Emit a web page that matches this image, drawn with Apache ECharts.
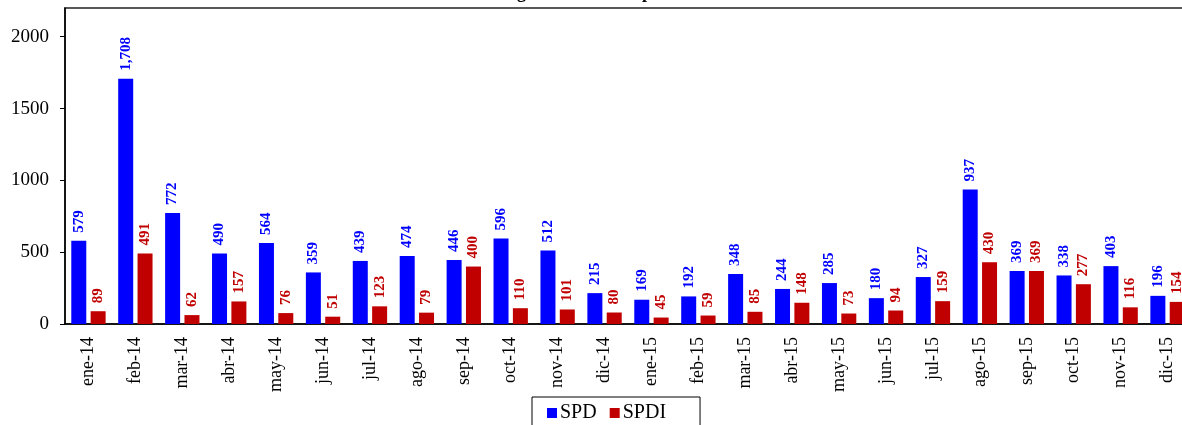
<!DOCTYPE html>
<html>
<head>
<meta charset="utf-8">
<script src="https://cdn.jsdelivr.net/npm/echarts@6/dist/echarts.min.js"></script>
<style>html,body{margin:0;padding:0;background:#fff;overflow:hidden;}#c{width:1200px;height:425px;}</style>
</head>
<body>
<div id="c"></div>
<script>
var categories = ['ene-14','feb-14','mar-14','abr-14','may-14','jun-14','jul-14','ago-14','sep-14','oct-14','nov-14','dic-14','ene-15','feb-15','mar-15','abr-15','may-15','jun-15','jul-15','ago-15','sep-15','oct-15','nov-15','dic-15'];
var spd = [579,1708,772,490,564,359,439,474,446,596,512,215,169,192,348,244,285,180,327,937,369,338,403,196];
var spdi = [89,491,62,157,76,51,123,79,400,110,101,80,45,59,85,148,73,94,159,430,369,277,116,154];
var yTicks = [0,500,1000,1500,2000];
var titleText = 'Montos Mensuales Negociados de Swaps en 2014-2015';

var FONT = '"Liberation Serif","Times New Roman",serif';
function fmt(p){ return Number(p.value).toLocaleString('en-US'); }
var chart = echarts.init(document.getElementById('c'));
chart.setOption({
  animation:false,
  backgroundColor:'#fff',
  title:{text:titleText,left:343,top:-21,textStyle:{fontFamily:FONT,fontSize:18,fontWeight:'bold',color:'#000'}},
  grid:{left:65,top:8,width:1126,bottom:101,show:true,borderColor:'#222',borderWidth:1.5,backgroundColor:'transparent'},
  legend:{left:532,top:397,orient:'horizontal',padding:[6,34,8,15],itemGap:13,itemWidth:10,itemHeight:10,borderColor:'#000',borderWidth:1,
    icon:'rect',textStyle:{fontFamily:FONT,fontSize:20,color:'#000',padding:[0,0,0,-2]},data:['SPD','SPDI']},
  xAxis:{type:'category',data:categories,
    axisLine:{lineStyle:{color:'#000',width:1.5}},axisTick:{show:false},
    axisLabel:{rotate:90,interval:0,margin:13,fontFamily:FONT,fontSize:18,color:'#000'}},
  yAxis:{type:'value',min:0,max:2200,interval:500,
    axisLine:{show:true,lineStyle:{color:'#000',width:1.5}},
    axisTick:{show:true,length:5,lineStyle:{color:'#000'}},
    splitLine:{show:false},
    axisLabel:{showMaxLabel:false,margin:16,fontFamily:FONT,fontSize:19,color:'#000',
      formatter:function(v){return yTicks.indexOf(v)>=0?String(v):'';}}},
  series:[
    {name:'SPD',type:'bar',data:spd,barWidth:15,barGap:'29%',itemStyle:{color:'#0000FF'},
      label:{show:true,position:'top',rotate:90,align:'left',verticalAlign:'middle',distance:8,formatter:fmt,
        fontFamily:FONT,fontSize:15,fontWeight:'bold',color:'#0000FF'}},
    {name:'SPDI',type:'bar',data:spdi,barWidth:15,itemStyle:{color:'#C00000'},
      label:{show:true,position:'top',rotate:90,align:'left',verticalAlign:'middle',distance:8,formatter:fmt,
        fontFamily:FONT,fontSize:15,fontWeight:'bold',color:'#C00000'}}
  ]
});
</script>
</body>
</html>
